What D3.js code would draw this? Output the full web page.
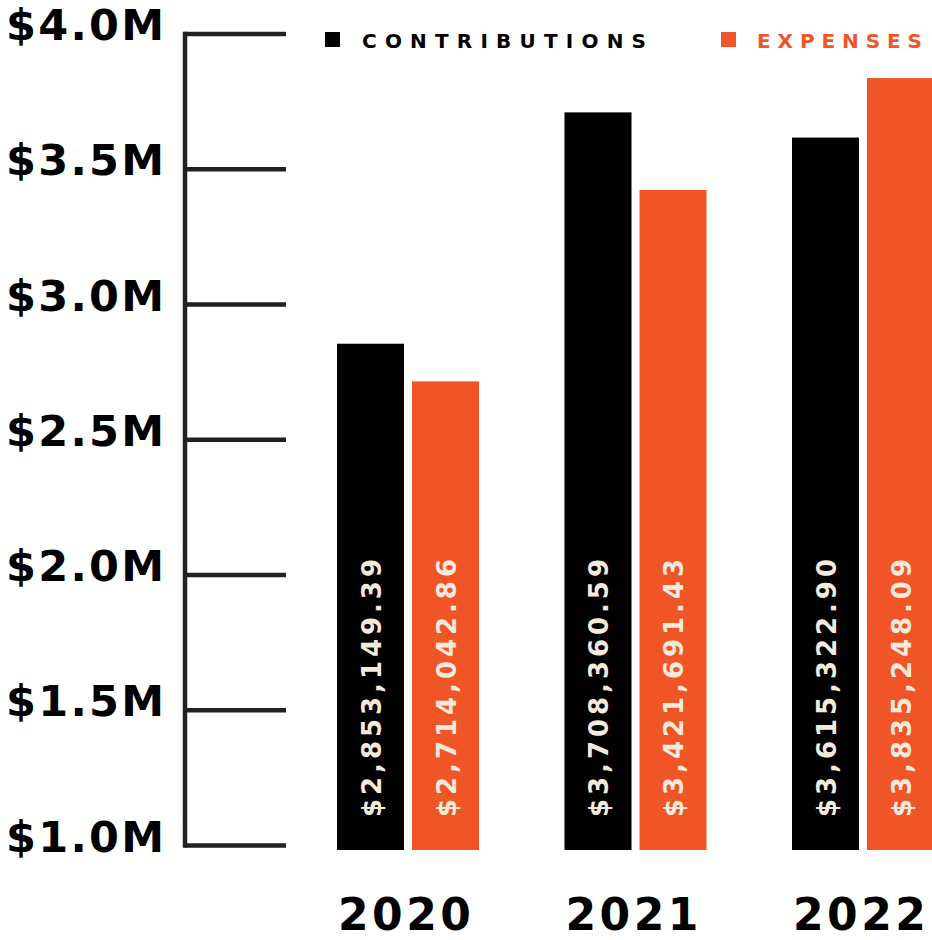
<!DOCTYPE html>
<html>
<head>
<meta charset="utf-8">
<script src="https://cdn.jsdelivr.net/npm/d3@7"></script>
<style>
  html, body { margin: 0; padding: 0; background: #ffffff; }
  svg { display: block; }
  text { font-family: "DejaVu Sans", sans-serif; font-weight: bold; }
</style>
</head>
<body>
<svg id="chart" width="932" height="940"></svg>
<script>
// Annual totals (USD millions)
const years = ["2020", "2021", "2022"];
const seriesNames = ["Contributions", "Expenses"];
const contributions = [2.85314939, 3.70836059, 3.61532290];
const expenses = [2.71404286, 3.42169143, 3.83524809];
const valueLabels = {
  Contributions: ["$2,853,149.39", "$3,708,360.59", "$3,615,322.90"],
  Expenses: ["$2,714,042.86", "$3,421,691.43", "$3,835,248.09"]
};
const tickValues = [1.0, 1.5, 2.0, 2.5, 3.0, 3.5, 4.0];
const tickLabels = ["$1.0M", "$1.5M", "$2.0M", "$2.5M", "$3.0M", "$3.5M", "$4.0M"];

const BLACK = "#000000";
const ORANGE = "#f05528";
const CREAM = "#f4eadb";
const AXIS = "#1f2221";

const svg = d3.select("#chart");

// Set letter spacing so that a text spans the given width
function fitWidth(node, target) {
  node.setAttribute("letter-spacing", 0);
  const n = node.textContent.length;
  const w = node.getComputedTextLength();
  const s = (target - w) / (n - 1);
  node.setAttribute("letter-spacing", s);
  return s;
}

const y = d3.scaleLinear().domain([1, 4]).range([845, 33.5]);

const x0 = d3.scaleBand().domain(years).range([337, 934]).paddingInner(0.3758).paddingOuter(0);
const x1 = d3.scaleBand().domain(seriesNames).range([0, x0.bandwidth()]).paddingInner(0.1067).paddingOuter(0);
const color = d3.scaleOrdinal().domain(seriesNames).range([BLACK, ORANGE]);

const rows = years.map((yr, i) => ({
  year: yr,
  values: [
    { key: "Contributions", value: contributions[i], label: valueLabels.Contributions[i] },
    { key: "Expenses", value: expenses[i], label: valueLabels.Expenses[i] }
  ]
}));

// Axis: vertical rule with long tick marks, labels on the left
const axisG = svg.append("g")
  .attr("transform", "translate(184.5,0)")
  .call(d3.axisLeft(y)
    .tickValues(tickValues)
    .tickSizeInner(-101.5)
    .tickSizeOuter(0)
    .tickPadding(0)
    .tickFormat((d, i) => tickLabels[i]));

axisG.select(".domain")
  .attr("stroke", AXIS)
  .attr("stroke-width", 4.5)
  .attr("stroke-linecap", "square");
axisG.selectAll(".tick line")
  .attr("stroke", AXIS)
  .attr("stroke-width", 4.5);
axisG.selectAll(".tick text")
  .attr("fill", "#000")
  .attr("font-size", 43)
  .attr("font-family", "DejaVu Sans")
  .attr("font-weight", "bold")
  .attr("text-anchor", "start")
  .attr("x", 6 - 184.5)
  .attr("dy", null)
  .attr("y", 6)
  .each(function () { fitWidth(this, 158); });

// Bars
const baseY = y(1) + 5;
const groups = svg.append("g").selectAll("g.year")
  .data(rows)
  .join("g")
  .attr("class", "year")
  .attr("transform", d => `translate(${x0(d.year)},0)`);

groups.selectAll("rect")
  .data(d => d.values)
  .join("rect")
  .attr("x", d => x1(d.key))
  .attr("y", d => y(d.value))
  .attr("width", x1.bandwidth())
  .attr("height", d => baseY - y(d.value))
  .attr("fill", d => color(d.key));

// Vertical value labels inside the bars
const labelSize = 26;
groups.selectAll("text.value")
  .data(d => d.values)
  .join("text")
  .attr("class", "value")
  .attr("font-size", labelSize)
  .attr("fill", CREAM)
  .attr("text-anchor", "start")
  .attr("transform", d => `translate(${x1(d.key) + x1.bandwidth() / 2 + 1 + labelSize * 0.729 / 2},${baseY - 33}) rotate(-90)`)
  .text(d => d.label)
  .each(function () { fitWidth(this, 258); });

// Year labels
svg.append("g").selectAll("text.yr")
  .data(years)
  .join("text")
  .attr("class", "yr")
  .attr("x", d => x0(d) + 1)
  .attr("y", 930)
  .attr("font-size", 44)
  .attr("fill", "#000")
  .attr("letter-spacing", 3.5)
  .text(d => d);

// Legend
const legend = svg.append("g");
const legendItems = [
  { key: "Contributions", sx: 325, tx: 362, width: 284 },
  { key: "Expenses", sx: 721, tx: 757, width: 165 }
];
legend.selectAll("rect")
  .data(legendItems)
  .join("rect")
  .attr("x", d => d.sx)
  .attr("y", 32)
  .attr("width", 15)
  .attr("height", 15)
  .attr("fill", d => color(d.key));

legend.selectAll("text")
  .data(legendItems)
  .join("text")
  .attr("x", d => d.tx)
  .attr("y", 47.5)
  .attr("font-size", 20)
  .attr("fill", d => color(d.key))
  .text(d => d.key.toUpperCase())
  .each(function (d) { fitWidth(this, d.width); });
</script>
</body>
</html>
